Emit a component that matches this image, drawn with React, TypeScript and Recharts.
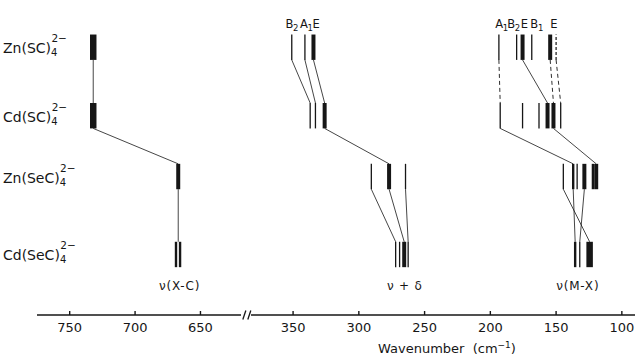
import React from 'react';
import { ComposedChart, XAxis, YAxis, ReferenceLine, Scatter } from 'recharts';

const FONT = '"DejaVu Sans", Verdana, sans-serif';
const INK = '#161616';

// rows, top to bottom
const formulas = ['Zn(SC)', 'Cd(SC)', 'Zn(SeC)', 'Cd(SeC)'];
const rowLevels = [9.07, 6.75, 4.69, 2.05];
const HALF = 0.43;

// band positions (cm-1) and intensity class per row
const znScBands = [732, 351, 341, 334.5, 193.5, 180, 175.5, 168.5, 154.5, 150];
const znScInt = ['vs', 'w', 'w', 's', 'w', 'w', 's', 'w', 's', 'd'];
const cdScBands = [732, 337, 333, 326, 192.5, 175.5, 163, 156.5, 152, 146.5];
const cdScInt = ['vs', 'w', 'w', 's', 'w', 'w', 'w', 's', 's', 'w'];
const znSecBands = [667, 290.5, 277, 264.5, 144.5, 137, 134, 128.5, 122, 119.5];
const znSecInt = ['s', 'w', 's', 'w', 'w', 'm', 'w', 's', 'm', 's'];
const cdSecBands = [668.7, 665.6, 272, 269, 265.5, 262.5, 135.5, 132, 124.5];
const cdSecInt = ['m', 'm', 'w', 'w', 's', 'w', 'm', 'w', 'vs'];

// correlation lines between neighbouring rows [upper, lower]
const links01 = [[732, 732], [351, 337], [341, 333], [334.5, 326], [175.5, 156.5]];
const links01Dashed = [[193.5, 192.5], [154.5, 152], [150, 146.5]];
const links12 = [[732, 667], [326, 277], [192.5, 137], [152, 119.5]];
const links23 = [[667, 667], [290.5, 272], [277, 265.5], [264.5, 262.5], [144.5, 124.5], [137, 135.5], [128.5, 132]];

// symmetry labels above the top row (where each label sits, cm-1)
const symAt = [351, 340, 332.5, 191.5, 182.3, 174.3, 164.8, 151.8];
const symLetters = ['B', 'A', 'E', 'A', 'B', 'E', 'B', 'E'];
const symSubs = ['2', '1', '', '1', '2', '', '1', ''];

const groupNames = ['ν(X-C)', 'ν + δ', 'ν(M-X)'];
const groupCentres = [666, 265, 133.5];

const leftTicks = [750, 700, 650];
const rightTicks = [350, 300, 250, 200, 150, 100];

const rowBands = [znScBands, cdScBands, znSecBands, cdSecBands];
const rowInts = [znScInt, cdScInt, znSecInt, cdSecInt];
const rowLinks = [links01, links12, links23];

const WIDTHS: Record<string, number> = { vs: 6.5, s: 4, m: 2.4, w: 1.3, d: 1.2 };

const WaveTick = (p: any) => {
  const { x, y, payload } = p;
  return (
    <g>
      <line x1={x} x2={x} y1={y - 4} y2={y} stroke={INK} strokeWidth={1.4} />
      <text x={x} y={y + 17} textAnchor="middle" fontSize={13} fontFamily={FONT} fill={INK}>
        {payload.value}
      </text>
    </g>
  );
};

const FormulaTick = (p: any) => {
  const { y, payload } = p;
  const i = rowLevels.indexOf(payload.value);
  if (i < 0) return null;
  return (
    <text x={3} y={y + 6} fontSize={14} fontFamily={FONT} fill={INK}>
      {formulas[i]}
      <tspan fontSize={10} dy={3}>4</tspan>
      <tspan fontSize={10.5} dx={-6} dy={-14}>2−</tspan>
    </text>
  );
};

const SymShape = (p: any) => {
  const { cx, cy, payload } = p;
  return (
    <text x={cx} y={cy - 7} textAnchor="middle" fontSize={11.5} fontFamily={FONT} fill={INK} letterSpacing={-0.3}>
      {payload.l}
      {payload.s ? <tspan fontSize={8.5} dy={3}>{payload.s}</tspan> : null}
    </text>
  );
};

const GroupShape = (p: any) => {
  const { cx, cy, payload } = p;
  return (
    <text x={cx} y={cy + 23} textAnchor="middle" fontSize={12} fontFamily={FONT} fill={INK} letterSpacing={0.8}>
      {payload.t}
    </text>
  );
};

function Panel({ lo, hi, width, marginRight, ticks, showRows, broken }: any) {
  const inside = (v: number) => v >= lo && v <= hi;

  const bands = rowBands.flatMap((list, ri) =>
    list.filter(inside).map((v) => {
      const k = rowInts[ri][list.indexOf(v)];
      return (
        <ReferenceLine
          key={`b${ri}-${v}`}
          segment={[{ x: v, y: rowLevels[ri] - HALF }, { x: v, y: rowLevels[ri] + HALF }]}
          stroke={INK}
          strokeWidth={WIDTHS[k]}
          strokeDasharray={k === 'd' ? '3 2' : undefined}
          ifOverflow="visible"
        />
      );
    })
  );

  const links = rowLinks.flatMap((list, ri) =>
    list
      .filter(([a, b]) => inside(a) && inside(b))
      .map(([a, b]) => (
        <ReferenceLine
          key={`l${ri}-${a}-${b}`}
          segment={[{ x: a, y: rowLevels[ri] - HALF }, { x: b, y: rowLevels[ri + 1] + HALF }]}
          stroke={INK}
          strokeWidth={0.8}
          ifOverflow="visible"
        />
      ))
  );

  const dashed = links01Dashed
    .filter(([a, b]) => inside(a) && inside(b))
    .map(([a, b]) => (
      <ReferenceLine
        key={`d-${a}`}
        segment={[{ x: a, y: rowLevels[0] - HALF }, { x: b, y: rowLevels[1] + HALF }]}
        stroke={INK}
        strokeWidth={0.9}
        strokeDasharray="4 3"
        ifOverflow="visible"
      />
    ));

  const symData = symAt
    .map((v, i) => ({ x: v, y: rowLevels[0] + HALF, l: symLetters[i], s: symSubs[i] }))
    .filter((d) => inside(d.x));
  const groupData = groupCentres
    .map((v, i) => ({ x: v, y: rowLevels[3] - HALF, t: groupNames[i] }))
    .filter((d) => inside(d.x));

  return (
    <ComposedChart width={width} height={361} margin={{ top: 5, right: marginRight, bottom: 16, left: 0 }}>
      <XAxis
        type="number"
        dataKey="x"
        domain={[lo, hi]}
        reversed
        allowDataOverflow
        ticks={ticks}
        interval={0}
        height={30}
        tickSize={0}
        tickMargin={0}
        tickLine={false}
        axisLine={{ stroke: INK, strokeWidth: 1.6 }}
        tick={<WaveTick />}
      />
      <YAxis
        type="number"
        dataKey="y"
        domain={[0, 10.5]}
        allowDataOverflow
        hide={!showRows}
        width={37}
        ticks={rowLevels}
        interval={0}
        axisLine={false}
        tickLine={false}
        tick={<FormulaTick />}
      />
      {links}
      {dashed}
      {bands}
      {broken ? (
        <ReferenceLine segment={[{ x: 617.6, y: -0.15 }, { x: 615.3, y: 0.15 }]} stroke={INK} strokeWidth={1.3} ifOverflow="visible" />
      ) : null}
      {broken ? (
        <ReferenceLine segment={[{ x: 613.8, y: -0.15 }, { x: 611.5, y: 0.15 }]} stroke={INK} strokeWidth={1.3} ifOverflow="visible" />
      ) : null}
      <Scatter data={symData} shape={<SymShape />} isAnimationActive={false} />
      <Scatter data={groupData} shape={<GroupShape />} isAnimationActive={false} />
    </ComposedChart>
  );
}

export default function App() {
  return (
    <div style={{ position: 'absolute', left: 0, top: 0, width: 637, height: 361, background: '#fff', overflow: 'hidden' }}>
      <div style={{ position: 'absolute', left: 0, top: 0 }}>
        <Panel lo={619} hi={775} width={256} marginRight={15} ticks={leftTicks} showRows broken />
      </div>
      <div style={{ position: 'absolute', left: 251, top: 0 }}>
        <Panel lo={90} hi={382} width={386} marginRight={2} ticks={rightTicks} showRows={false} broken={false} />
      </div>
      <div
        style={{
          position: 'absolute',
          left: 378,
          top: 340,
          fontFamily: FONT,
          fontSize: 13,
          color: INK,
          whiteSpace: 'pre',
        }}
      >
        {'Wavenumber  (cm'}
        <sup style={{ fontSize: 9 }}>−1</sup>
        {')'}
      </div>
    </div>
  );
}
